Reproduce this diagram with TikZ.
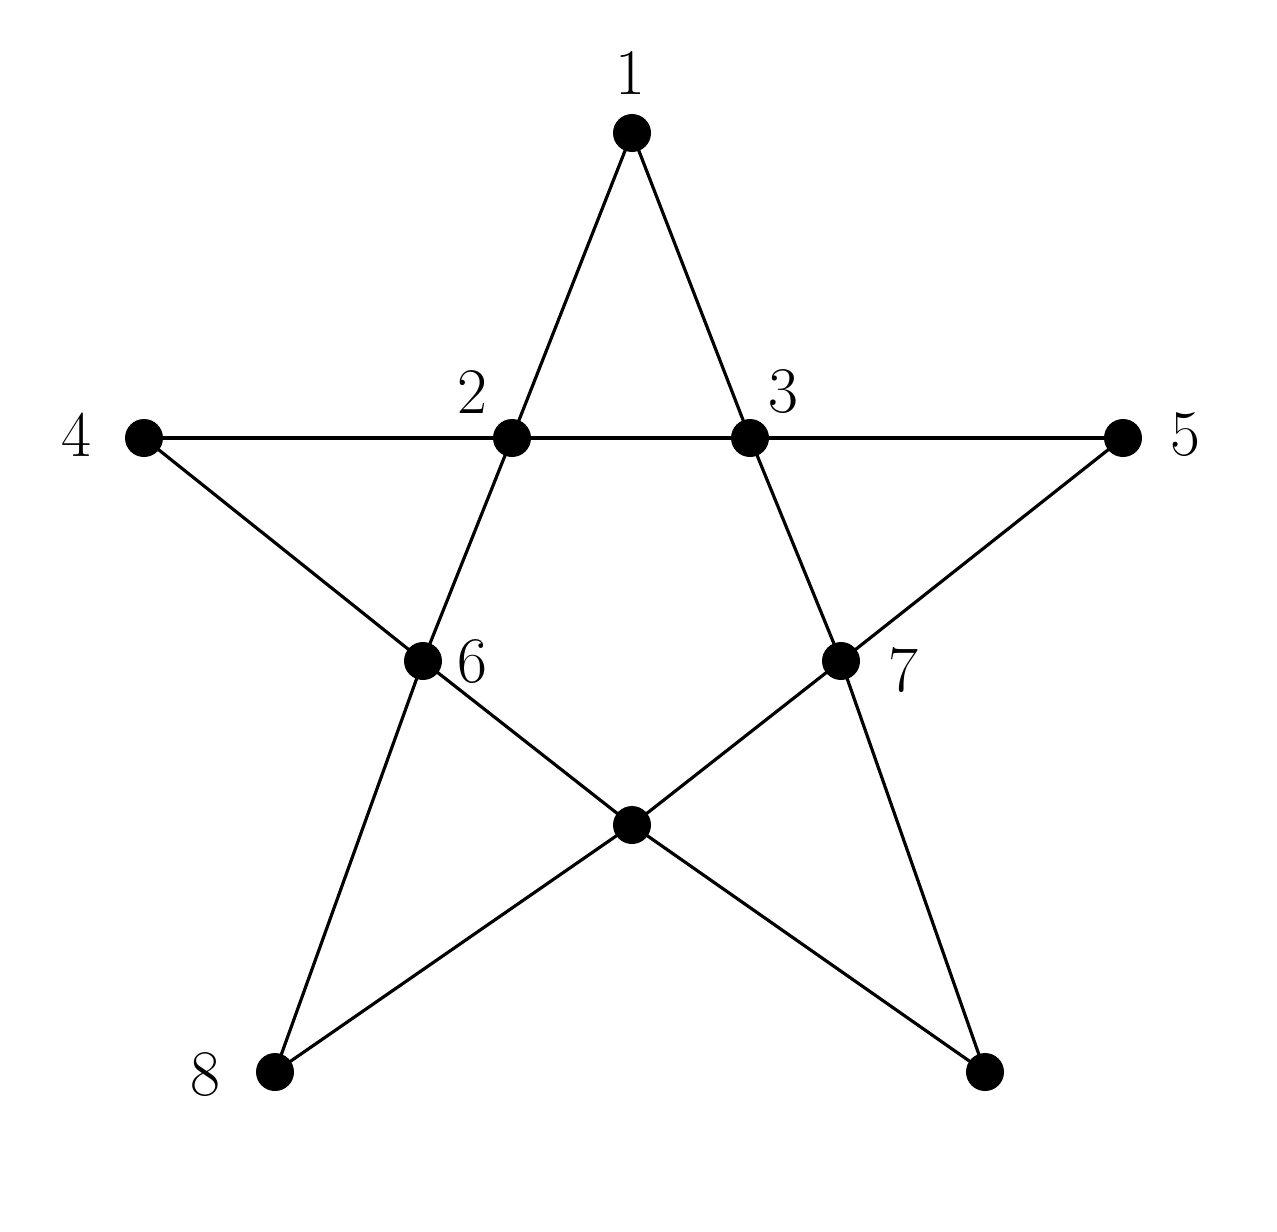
\documentclass[tikz,border=0pt]{standalone}
\begin{document}
\begin{tikzpicture}[x=0.02cm,y=-0.02cm,
  dot/.style={circle,fill=black,inner sep=0pt,minimum size=0.76cm},
  lbl/.style={font=\fontsize{37}{44}\selectfont,inner sep=0pt},
  edge/.style={line width=1.8pt}]
\useasboundingbox (0,0) rectangle (1277,1231);
\node[dot] (n1) at (632,133) {};
\node[dot] (n2) at (512,438) {};
\node[dot] (n3) at (750,438) {};
\node[dot] (n4) at (144,438) {};
\node[dot] (n5) at (1123,438) {};
\node[dot] (n6) at (423,661) {};
\node[dot] (n7) at (841,661) {};
\node[dot] (nc) at (632,825) {};
\node[dot] (n8) at (275,1072) {};
\node[dot] (nb) at (985,1072) {};
\draw[edge] (n1.center) -- (n2.center) -- (n6.center) -- (n8.center);
\draw[edge] (n1.center) -- (n3.center) -- (n7.center) -- (nb.center);
\draw[edge] (n4.center) -- (n2.center) -- (n3.center) -- (n5.center);
\draw[edge] (n4.center) -- (n6.center) -- (nc.center) -- (nb.center);
\draw[edge] (n5.center) -- (n7.center) -- (nc.center) -- (n8.center);
\node[lbl] (l1) at (630,73) {1};
\node[lbl] (l2) at (472,392) {2};
\node[lbl] (l3) at (783,392) {3};
\node[lbl] (l4) at (76,435) {4};
\node[lbl] (l5) at (1185,435) {5};
\node[lbl] (l6) at (472,662) {6};
\node[lbl] (l7) at (903,670) {7};
\node[lbl] (l8) at (205,1075) {8};
\end{tikzpicture}
\end{document}
